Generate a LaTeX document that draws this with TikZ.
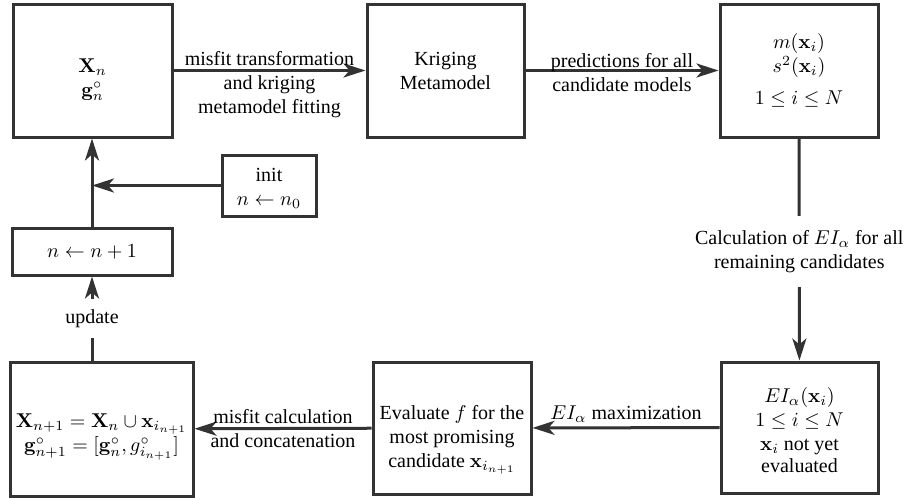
\documentclass[tikz,border=0pt]{standalone}
\usepackage[no-math]{fontspec}
\setmainfont{Liberation Serif}
\usepackage{amsmath}
\usepackage{amssymb}
\usetikzlibrary{arrows.meta}
\definecolor{linegray}{RGB}{51,51,51}
\newcommand{\boxstrut}[1]{\rule{0pt}{#1}}
\tikzset{
  blockbox/.style={draw=linegray, line width=1.5pt, align=center, inner sep=1pt},
  flowarrow/.style={draw=linegray, line width=1.5pt, -{Stealth[length=11pt,width=7pt,inset=3pt]}},
  flowlabel/.style={align=center, inner sep=1pt},
}

\begin{document}
\begin{tikzpicture}[x=0.5pt,y=-0.5pt]
\useasboundingbox (0,0) rectangle (906,499);
% top row
\node[blockbox, minimum width=79.5pt, minimum height=66.5pt] (Xn) at (92.5,70.5) {\boxstrut{16pt}$\mathbf{X}_n$\\$\mathbf{g}^\circ_n$};
\node[blockbox, minimum width=78.5pt, minimum height=66.5pt] (krig) at (445.5,70.5) {Kriging\\Metamodel};
\node[blockbox, minimum width=79pt, minimum height=66.5pt] (pred) at (799,70.5) {$m(\mathbf{x}_i)$\\$s^2(\mathbf{x}_i)$\\[4pt]$1\le i\le N$};
% bottom row
\node[blockbox, minimum width=78.5pt, minimum height=65.5pt] (EI) at (799.5,427.5) {\boxstrut{10pt}$EI_\alpha(\mathbf{x}_i)$\\$1\le i\le N$\\$\mathbf{x}_i$ not yet\\[-1pt]evaluated};
\node[blockbox, minimum width=79pt, minimum height=66pt] (eval) at (452,428) {\boxstrut{19pt}Evaluate $f$ for the\\most promising\\candidate $\mathbf{x}_{i_{n+1}}$};
\node[blockbox, minimum width=91.5pt, minimum height=67pt] (Xnew) at (101.5,429) {\boxstrut{15pt}$\mathbf{X}_{n+1}=\mathbf{X}_n\cup\mathbf{x}_{i_{n+1}}$\\$\mathbf{g}^\circ_{n+1}=[\mathbf{g}^\circ_n,g^\circ_{i_{n+1}}]$};
% loop boxes
\node[blockbox, minimum width=80pt, minimum height=23.5pt] (incr) at (92,251.5) {$n\leftarrow n+1$};
\node[blockbox, minimum width=47pt, minimum height=30.5pt] (init) at (269,185.5) {\boxstrut{9pt}init\\$n\leftarrow n_0$};

\draw[flowarrow] (Xn) -- node[flowlabel, yshift=-7pt] {misfit transformation\\and kriging\\metamodel fitting} (krig);
\draw[flowarrow] (krig) -- node[flowlabel, yshift=-1pt] {predictions for all\\candidate models} (pred);
\draw[flowarrow] (pred) -- node[flowlabel, fill=white, inner ysep=7pt, yshift=-1pt] {Calculation of $EI_\alpha$ for all\\remaining candidates} (EI);
\draw[flowarrow] (EI) -- node[flowlabel, above=1pt] {$EI_\alpha$ maximization} (eval);
\draw[flowarrow] (eval) -- node[flowlabel] {misfit calculation\\and concatenation} (Xnew);
\draw[flowarrow] (incr |- Xnew.north) -- node[flowlabel, fill=white, inner ysep=5pt] {update} (incr.south);
\draw[flowarrow] (incr) -- (incr |- Xn.south);
\draw[flowarrow] (init) -- (init -| incr);
\end{tikzpicture}
\end{document}
